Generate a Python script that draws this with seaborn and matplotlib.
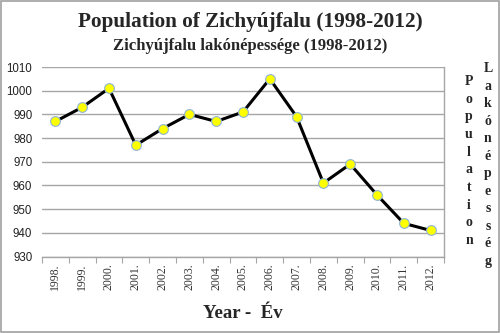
import matplotlib
matplotlib.use("Agg")
import matplotlib.pyplot as plt
import seaborn as sns
import pandas as pd
import numpy as np
from matplotlib.patches import Rectangle

years = ["1998.", "1999.", "2000.", "2001.", "2002.", "2003.", "2004.", "2005.",
         "2006.", "2007.", "2008.", "2009.", "2010.", "2011.", "2012."]
population = [987, 993, 1001, 977, 984, 990, 987, 991, 1005, 989, 961, 969, 956, 944, 941]
yticks = [930, 940, 950, 960, 970, 980, 990, 1000, 1010]

sns.set_theme(style="white")
serif = ["Liberation Serif", "DejaVu Serif"]
sans = ["Liberation Sans", "DejaVu Sans"]

df = pd.DataFrame({"idx": np.arange(len(years)), "pop": population})

fig = plt.figure(figsize=(5, 3.33), dpi=100)
ax = fig.add_axes([42/500, 1 - 256.5/333, (444-42)/500, (256.5-67)/333])

sns.lineplot(data=df, x="idx", y="pop", ax=ax, color="black", linewidth=2.2,
             marker="o", markersize=7, markerfacecolor="#ffff00",
             markeredgecolor="#8db3d9", markeredgewidth=0.8, zorder=3)

ax.set_xlim(-0.5, len(years) - 0.5)
ax.set_ylim(930, 1010)
ax.set_yticks(yticks)
ax.set_yticklabels([str(v) for v in yticks], fontfamily=sans, fontsize=8.3, color="#222222")
ax.yaxis.grid(True, color="#a6a6a6", linewidth=1)
ax.set_axisbelow(True)

ax.set_xticks(np.arange(-0.5, len(years), 1.0))
ax.set_xticklabels([])
ax.set_xticks(np.arange(len(years)), minor=True)
ax.set_xticklabels(years, minor=True, rotation=90, fontfamily=serif, fontsize=8.5, color="#333333")
ax.tick_params(axis="x", which="major", length=4, width=0.8, color="#a6a6a6", direction="out", bottom=True)
ax.tick_params(axis="x", which="minor", length=0, pad=5)
ax.tick_params(axis="y", length=0, pad=7)

for s in ["left", "top"]:
    ax.spines[s].set_visible(False)
ax.spines["bottom"].set_color("#a6a6a6")
ax.spines["right"].set_color("#a6a6a6")
ax.spines["bottom"].set_linewidth(1)
ax.spines["right"].set_linewidth(1)

ax.set_xlabel("")
ax.set_ylabel("")

fig.text(0.5, 1 - 22/333, "Population of Zichyújfalu (1998-2012)", ha="center", va="center",
         fontfamily=serif, fontweight="bold", fontsize=15.3)
fig.text(0.5, 1 - 46/333, "Zichyújfalu lakónépessége (1998-2012)", ha="center", va="center",
         fontfamily=serif, fontweight="bold", fontsize=12)
fig.text(243/500, 1 - 313/333, "Year -  Év", ha="center", va="center",
         fontfamily=serif, fontweight="bold", fontsize=13.5)

fig.text(469/500, 1 - 161/333, "\n".join("Population"), ha="center", va="center",
         fontfamily=serif, fontweight="bold", fontsize=10, linespacing=1.47)
fig.text(488/500, 1 - 165/333, "\n".join("Lakónépesség"), ha="center", va="center",
         fontfamily=serif, fontweight="bold", fontsize=10, linespacing=1.45)

fig.patches.append(Rectangle((0.002, 0.003), 0.995, 0.994, transform=fig.transFigure,
                             fill=False, edgecolor="#a0a0a0", linewidth=1.2))

fig.savefig("out.png", dpi=100)
